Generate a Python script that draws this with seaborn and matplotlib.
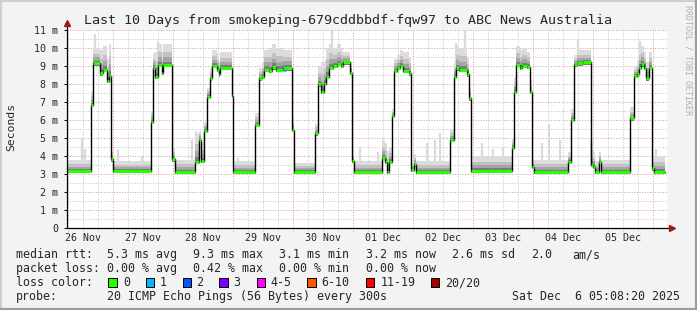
import numpy as np
import matplotlib
matplotlib.use("Agg")
import matplotlib.pyplot as plt
from matplotlib.patches import Rectangle
from matplotlib.lines import Line2D
import seaborn as sns

# ---------------- data (hours since 26 Nov 00:00, latency in ms) ----------------
seg_start = [5.6, 15.2, 16.1, 18.8, 20.0, 21.5, 22.3, 23.1, 24.1, 39.2,
             40.1, 40.9, 41.9, 43.4, 44.0, 47.5, 48.8, 56.8, 58.5, 59.0,
             60.4, 61.7, 62.9, 63.5, 65.6, 66.4, 66.8, 71.4, 72.1, 80.8,
             82.4, 83.4, 84.4, 86.4, 87.4, 89.2, 91.8, 95.5, 96.4, 104.8,
             106.1, 107.2, 108.2, 109.0, 110.4, 111.8, 113.5, 115.0, 116.0, 118.8,
             119.5, 120.2, 131.5, 132.6, 133.4, 134.3, 135.5, 136.4, 137.5, 138.8,
             139.8, 142.2, 143.1, 144.2, 145.2, 158.8, 160.2, 161.1, 162.4, 165.6,
             166.5, 167.1, 183.5, 184.5, 185.1, 186.8, 187.5, 189.4, 190.8, 191.5,
             192.2, 206.1, 207.2, 208.4, 209.6, 212.0, 215.2, 215.9, 216.7, 218.5,
             219.2, 230.8, 232.3, 233.6, 234.4, 235.3, 236.3, 237.2, 238.2, 239.5,
             240.3]
seg_median = [3.18, 6.83, 9.15, 8.59, 8.78, 8.17, 8.44, 3.81, 3.18, 5.90,
              8.90, 8.40, 9.05, 8.63, 9.05, 3.81, 3.13, 3.69, 4.89, 3.72,
              5.39, 7.30, 8.31, 9.00, 8.80, 8.54, 8.91, 7.33, 3.13, 5.72,
              8.31, 8.40, 8.80, 8.72, 8.93, 8.78, 8.87, 5.44, 3.13, 5.26,
              7.98, 7.57, 8.02, 8.40, 8.91, 9.02, 9.11, 9.02, 9.20, 8.63,
              3.72, 3.13, 3.91, 3.69, 3.13, 3.69, 6.24, 8.72, 8.91, 9.02,
              8.72, 8.59, 3.22, 3.54, 3.13, 4.89, 8.40, 8.87, 8.78, 8.54,
              7.20, 3.18, 4.46, 7.57, 9.05, 8.91, 9.02, 8.96, 7.57, 3.41,
              3.13, 3.69, 6.00, 9.09, 9.15, 9.20, 3.50, 3.41, 3.13, 3.69,
              3.13, 6.09, 8.46, 8.54, 8.91, 9.09, 8.91, 8.31, 8.91, 3.31,
              3.13]
seg_smoke_top = [3.8, 7.6, 10.0, 9.9, 10.1, 9.4, 10.2, 4.3, 3.7, 6.5,
                 9.7, 9.8, 10.2, 9.8, 10.2, 4.5, 3.8, 5.3, 5.4, 4.7,
                 5.9, 7.8, 8.9, 9.9, 9.7, 9.3, 9.8, 8.0, 3.7, 6.4,
                 8.9, 9.2, 9.9, 10.0, 10.2, 10.0, 9.9, 6.4, 3.6, 5.8,
                 9.0, 9.2, 9.3, 10.0, 10.2, 10.0, 10.2, 10.0, 9.8, 9.2,
                 4.3, 3.7, 4.9, 4.7, 4.3, 4.5, 6.6, 9.4, 9.6, 9.9,
                 9.8, 9.5, 3.6, 4.1, 3.7, 5.5, 9.2, 10.1, 10.0, 9.5,
                 7.8, 4.0, 5.0, 8.4, 10.1, 9.9, 10.0, 9.8, 8.2, 4.0,
                 3.8, 4.2, 6.6, 9.6, 9.9, 9.9, 4.8, 4.2, 3.7, 4.2,
                 3.8, 6.7, 9.0, 9.3, 10.0, 10.1, 9.8, 9.2, 9.8, 3.9,
                 4.0]
end_hour = 244.8

spike_hour = [11.6, 12.8, 16.8, 26.1, 35.5, 42.0, 55.5, 57.0, 73.8, 111.5,
              122.8, 130.1, 149.5, 152.8, 154.8, 161.2, 164.8, 171.5, 175.8, 180.0,
              195.5, 198.5, 202.8, 209.9, 215.3, 234.7, 241.0]
spike_top = [5.0, 4.4, 10.8, 4.4, 4.0, 10.4, 4.9, 5.4, 3.9, 11.0,
             4.5, 4.2, 4.7, 4.9, 5.3, 10.3, 11.1, 4.7, 4.4, 4.5,
             4.7, 5.8, 4.9, 10.5, 5.0, 10.4, 4.4]

loss_hour = [92.8]
loss_median = [8.80]

day_labels = ["26 Nov", "27 Nov", "28 Nov", "29 Nov", "30 Nov",
              "01 Dec", "02 Dec", "03 Dec", "04 Dec", "05 Dec"]
y_labels = ["0", "1 m", "2 m", "3 m", "4 m", "5 m", "6 m", "7 m", "8 m", "9 m", "10 m", "11 m"]

title = "Last 10 Days from smokeping-679cddbbdf-fqw97 to ABC News Australia"
rtt_items = ["5.3 ms avg", "9.3 ms max", "3.1 ms min", "3.2 ms now", "2.6 ms sd", "2.0", "am/s"]
loss_items = ["0.00 % avg", "0.42 % max", "0.00 % min", "0.00 % now"]
loss_names = ["0", "1", "2", "3", "4-5", "6-10", "11-19", "20/20"]
loss_colors = ["#26ff00", "#00b8ff", "#0059ff", "#7e00ff", "#ff00ff", "#ff5500", "#ff0000", "#a10000"]
probe_text = "20 ICMP Echo Pings (56 Bytes) every 300s"
date_text = "Sat Dec  6 05:08:20 2025"

# ---------------- style ----------------
sns.set_style("white")
MONO = "DejaVu Sans Mono"
plt.rcParams["font.family"] = [MONO]

W, H = 697, 310
fig = plt.figure(figsize=(W / 100, H / 100), dpi=100, facecolor="#f3f3f3")
ax = fig.add_axes([67 / W, 82 / H, 600 / W, 198 / H])
ax.set_facecolor("white")
ax.set_xlim(5.6, 245.6)
ax.set_ylim(0, 11)
for s in ax.spines.values():
    s.set_visible(False)


def px(x, y):
    return x / W, 1 - y / H


# grid
for h in range(6, 246, 6):
    if h < 5.6 or h > 245.6:
        continue
    major = (h % 24 == 0)
    ax.axvline(h, ymin=-0.013, ymax=1, color="#dc9a9a" if major else "#c6c6c6",
               lw=0.72, ls=(0, (1, 1.6)), zorder=0.5, clip_on=False)
for v in np.arange(0.5, 11.01, 0.5):
    major = abs(v - round(v)) < 1e-6
    ax.axhline(v, color="#dc9a9a" if major else "#c6c6c6",
               lw=0.72, ls=(0, (1, 1.6)), zorder=0.5)

# smoke
t = np.array(seg_start + [end_hour])
med = np.array(seg_median + [seg_median[-1]])
top = np.array(seg_smoke_top + [seg_smoke_top[-1]])

idx = np.searchsorted(seg_start, spike_hour, side="right") - 1
spike_base = np.array(seg_median)[idx]
ax.vlines(spike_hour, spike_base, spike_top, colors="#dadada", lw=1.6, zorder=1.2)

bands = [(1.0, "#dcdcdc"), (0.62, "#c2c2c2"), (0.38, "#a4a4a4"), (0.17, "#7c7c7c")]
for frac, col in bands:
    ax.fill_between(t, med - 0.13, med + frac * (top - med), step="post",
                    color=col, lw=0, zorder=1.5)

# median line (black connectors) and loss-coloured median marks
sns.lineplot(x=t, y=med, drawstyle="steps-post", color="black", lw=1.0,
             estimator=None, ax=ax, zorder=3)
ax.hlines(seg_median, seg_start, t[1:], colors=loss_colors[0], lw=2.2, zorder=4)
ax.hlines(loss_median, np.array(loss_hour) - 0.35, np.array(loss_hour) + 0.35,
          colors=loss_colors[1], lw=2.2, zorder=4.5)

# axes lines with arrows
ax.plot([0, 1.006], [0, 0], transform=ax.transAxes, color="black", lw=0.9,
        clip_on=False, zorder=6)
ax.plot([0, 0], [0, 1.035], transform=ax.transAxes, color="black", lw=0.9,
        clip_on=False, zorder=6)
ax.plot([1.008], [0], marker=">", ms=4, color="#a01818", transform=ax.transAxes,
        clip_on=False, zorder=7)
ax.plot([0], [1.035], marker="^", ms=4, color="#a01818", transform=ax.transAxes,
        clip_on=False, zorder=7)

# ticks
ax.set_yticks(range(12))
ax.set_yticklabels(y_labels)
ax.tick_params(axis="y", length=2.2, width=0.7, color="black", pad=4.2,
               labelsize=7.2, left=True)
ax.set_xticks([12 + 24 * i for i in range(len(day_labels))])
ax.set_xticklabels(day_labels)
ax.tick_params(axis="x", length=0, pad=3.6, labelsize=7.2, bottom=True)
ax.set_xlabel("")
ax.set_ylabel("")

# title, unit label, watermark
fig.text(*px(348.5, 24), title, ha="center", va="baseline", fontsize=9.6)
fig.text(*px(11, 127), "Seconds", rotation=90, ha="center", va="center", fontsize=8.2)
fig.text(*px(688, 5), "RRDTOOL / TOBI OETIKER", rotation=270, ha="center", va="top",
         fontsize=6, color="#b0b0b0")

# legend rows
FS = 8.4
rows_y = [258, 272, 286, 300]
fig.text(*px(16, rows_y[0]), "median rtt:", va="baseline", fontsize=FS)
for x, s in zip([107.3, 193.3, 279.3, 365.7, 451.7, 531, 572.7], rtt_items):
    fig.text(*px(x, rows_y[0]), s, va="baseline", fontsize=FS)
fig.text(*px(16, rows_y[1]), "packet loss:", va="baseline", fontsize=FS)
for x, s in zip([107.3, 193.3, 279.3, 365.7], loss_items):
    fig.text(*px(x, rows_y[1]), s, va="baseline", fontsize=FS)
fig.text(*px(16, rows_y[2]), "loss color:", va="baseline", fontsize=FS)
box_x = [108.3, 145.7, 182.7, 219.3, 256.7, 307.3, 365.7, 430.7]
lab_x = [123.3, 160, 196.7, 234, 270.7, 321.7, 380.7, 445.7]
for bx, lx, name, col in zip(box_x, lab_x, loss_names, loss_colors):
    fig.add_artist(Rectangle(px(bx, 286.7), 8.3 / W, 8.3 / H, transform=fig.transFigure,
                             facecolor=col, edgecolor="black", lw=0.7))
    fig.text(*px(lx - 0.5, rows_y[2]), name, va="baseline", fontsize=FS)
fig.text(*px(16, rows_y[3]), "probe:", va="baseline", fontsize=FS)
fig.text(*px(107.3, rows_y[3]), probe_text, va="baseline", fontsize=FS)
fig.text(*px(680.5, rows_y[3]), date_text, ha="right", va="baseline", fontsize=FS)

# image border
for (x0, y0, x1, y1, c, w) in [(0, 1, W, 1, "#cfcfcf", 1.5), (1, 0, 1, H, "#cfcfcf", 1.5),
                               (0, 308.5, W, 308.5, "#9c9c9c", 2.3),
                               (695.5, 0, 695.5, H, "#9c9c9c", 2.3)]:
    fig.add_artist(Line2D([x0 / W, x1 / W], [1 - y0 / H, 1 - y1 / H],
                          transform=fig.transFigure, color=c, lw=w))

fig.savefig("out.png", dpi=100, facecolor=fig.get_facecolor())
